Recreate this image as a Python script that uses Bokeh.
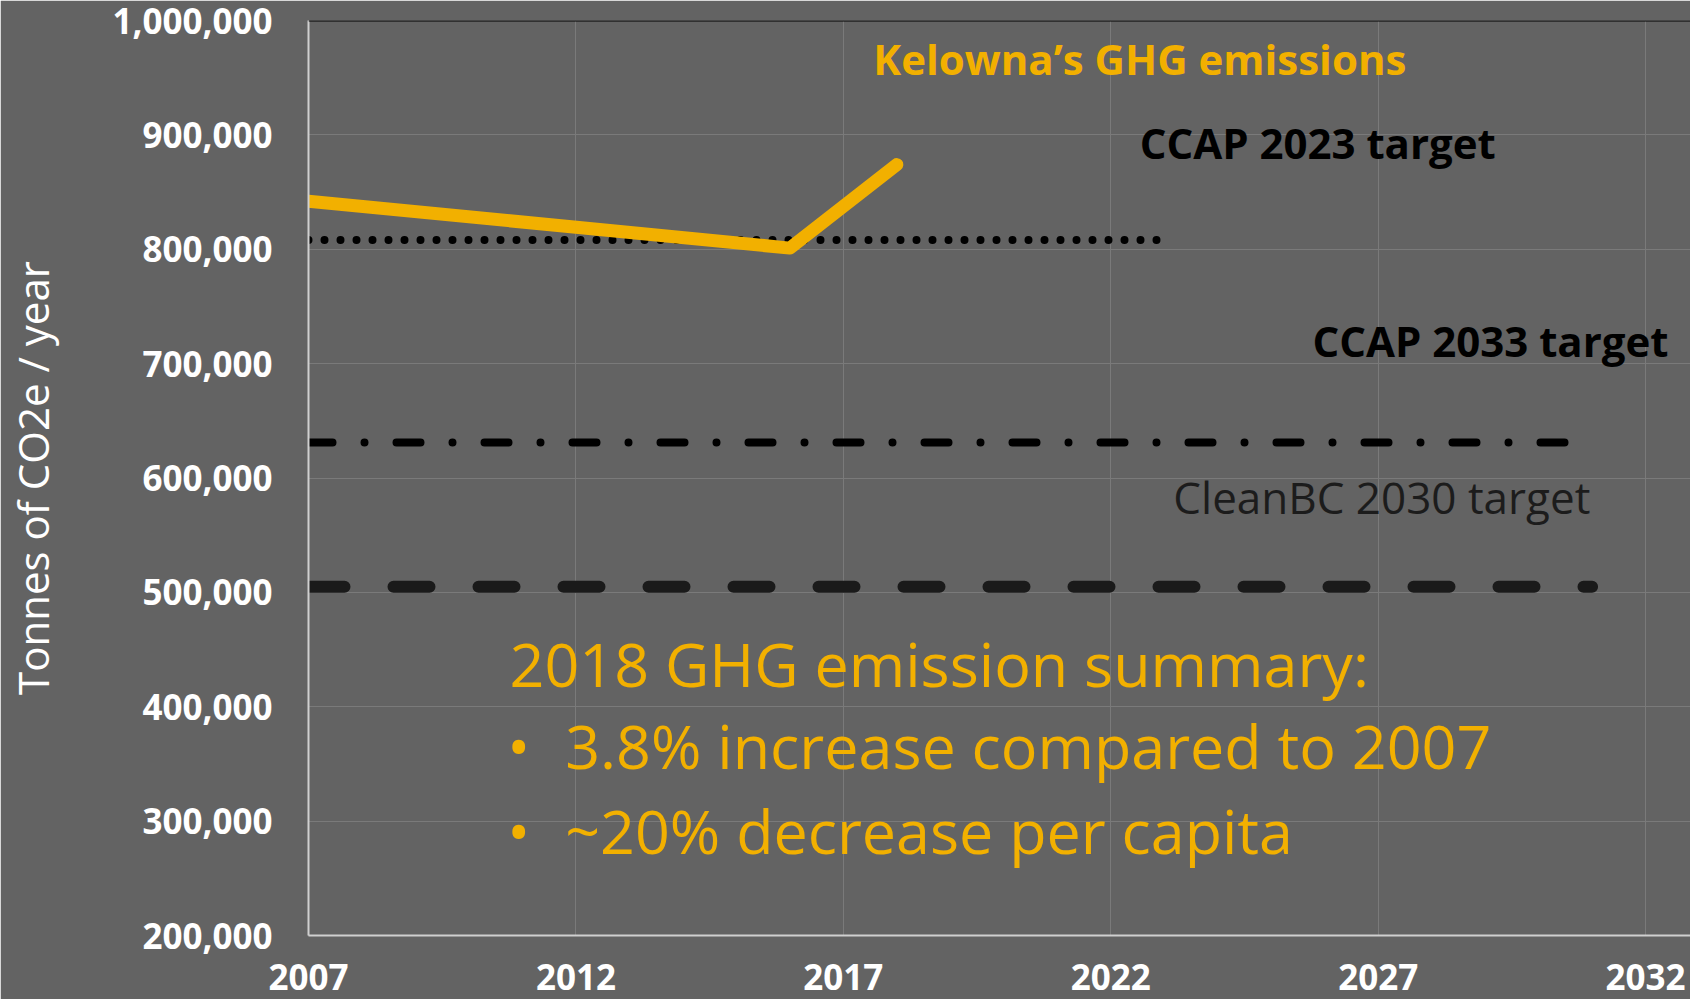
from bokeh.plotting import figure
from bokeh.models import Label, FixedTicker, NumeralTickFormatter, Span, Range1d
from bokeh.embed import file_html
from bokeh.resources import INLINE

# ---- data ----
X_TICKS = [2007, 2012, 2017, 2022, 2027, 2032]
X_TICK_LABELS = ["2007", "2012", "2017", "2022", "2027", "2032"]
Y_TICKS = [200000, 300000, 400000, 500000, 600000, 700000, 800000, 900000, 1000000]

em_years = [2007, 2016, 2018]
em_values = [842000, 801000, 874000]

ccap2023_years = [2007, 2023]
ccap2023_values = [808000, 808000]

ccap2033_years = [2007, 2031]
ccap2033_values = [631000, 631000]

cleanbc_years = [2007, 2031]
cleanbc_values = [505000, 505000]

Y_TITLE = "Tonnes of CO2e / year"
TITLE = "Kelowna\u2019s GHG emissions"
LBL_2023 = "CCAP 2023 target"
LBL_2033 = "CCAP 2033 target"
LBL_CLEANBC = "CleanBC 2030 target"
SUMMARY = ["2018 GHG emission summary:", "3.8% increase compared to 2007", "~20% decrease per capita"]

# ---- style ----
BG = "#636363"
GRID = "#7a7a7a"
ORANGE = "#F2B000"
FONT = "Open Sans"
X_MIN, X_MAX = 2007, 2032.84
Y_MIN, Y_MAX = 200000, 1000000

p = figure(width=1690, height=999, output_backend="svg", toolbar_location=None,
           x_range=Range1d(X_MIN, X_MAX), y_range=Range1d(Y_MIN, Y_MAX),
           min_border_left=308, min_border_right=0, min_border_top=20, min_border_bottom=64)
p.background_fill_color = BG
p.border_fill_color = BG
p.outline_line_color = None

p.xaxis.ticker = FixedTicker(ticks=X_TICKS)
p.xaxis.major_label_overrides = {t: l for t, l in zip(X_TICKS, X_TICK_LABELS)}
p.yaxis.ticker = FixedTicker(ticks=Y_TICKS)
p.yaxis.formatter = NumeralTickFormatter(format="0,0")
p.xgrid.ticker = FixedTicker(ticks=X_TICKS)
p.ygrid.ticker = FixedTicker(ticks=Y_TICKS)
p.grid.grid_line_color = GRID
p.grid.grid_line_width = 1

for ax in (p.xaxis[0], p.yaxis[0]):
    ax.axis_line_color = "#d0d0d0"
    ax.axis_line_width = 2
    ax.major_tick_line_color = None
    ax.minor_tick_line_color = None
    ax.major_tick_out = 0
    ax.major_tick_in = 0
    ax.major_label_text_color = "white"
    ax.major_label_text_font = FONT
    ax.major_label_text_font_style = "bold"
    ax.major_label_text_font_size = "35px"

p.xaxis.major_label_standoff = 28
p.yaxis.major_label_standoff = 36
p.yaxis.axis_label = Y_TITLE
p.yaxis.axis_label_text_font = FONT
p.yaxis.axis_label_text_font_style = "normal"
p.yaxis.axis_label_text_font_size = "42px"
p.yaxis.axis_label_text_color = "white"
p.yaxis.axis_label_standoff = 48

# top border of the plot area
p.add_layout(Span(location=Y_MAX, dimension="width", line_color="black", line_width=2))

# target lines
p.line(ccap2023_years, ccap2023_values, line_color="black", line_width=8,
       line_dash="0 16", line_cap="round")
p.line(ccap2033_years, ccap2033_values, line_color="black", line_width=8,
       line_dash="24 32 0 32", line_cap="round")
p.line(cleanbc_years, cleanbc_values, line_color="#1a1a1a", line_width=12,
       line_dash="36 49", line_cap="round")

# emissions line
p.line(em_years, em_values, line_color=ORANGE, line_width=13, line_cap="round", line_join="round")

def lab(x, y, text, size, color, style="bold", align="left"):
    p.add_layout(Label(x=x, y=y, text=text, text_font=FONT, text_font_size=size,
                       text_font_style=style, text_color=color, text_baseline="middle",
                       text_align=align))

lab(2017.56, 966800, TITLE, "42px", ORANGE)
lab(2022.54, 893300, LBL_2023, "42px", "black")
lab(2025.77, 720200, LBL_2033, "42px", "black")
lab(2023.17, 583800, LBL_CLEANBC, "44px", "#1c1c1c", style="normal")
lab(2010.76, 437500, SUMMARY[0], "61px", ORANGE, style="normal")
lab(2011.80, 366500, SUMMARY[1], "61px", ORANGE, style="normal")
lab(2011.80, 292000, SUMMARY[2], "61px", ORANGE, style="normal")
lab(2010.93, 366500, "\u2022", "61px", ORANGE, style="normal", align="center")
lab(2010.93, 292000, "\u2022", "61px", ORANGE, style="normal", align="center")

open("out.html", "w").write(file_html(p, INLINE))
